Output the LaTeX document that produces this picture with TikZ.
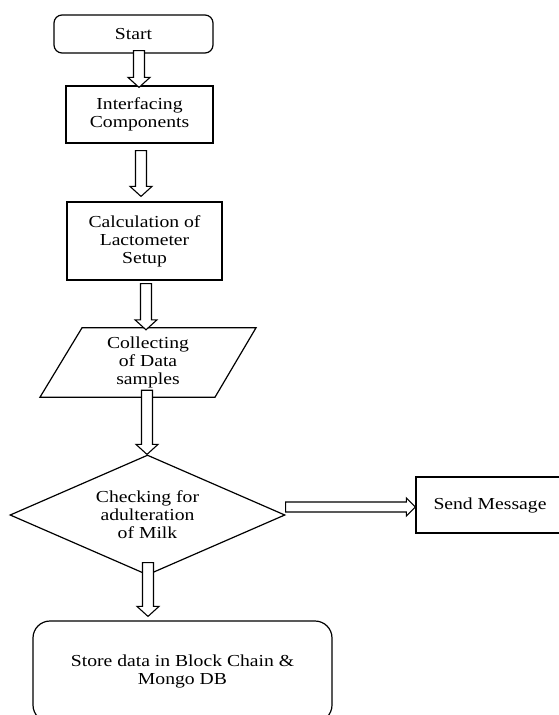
\documentclass[tikz,border=0pt]{standalone}
\usepackage{fontspec}
\setmainfont{Liberation Serif}[FakeStretch=1.17]
\usetikzlibrary{calc,shapes.geometric}
\tikzset{
  boxline/.style={draw, line width=1.2pt},
  txt/.style={align=center, font=\fontsize{16.8}{18}\selectfont, inner sep=0pt},
  procbox/.style={boxline, txt, rectangle},
  termbox/.style={boxline, txt, rectangle, rounded corners=8pt},
  blockarr/.style={draw, line width=1.1pt, fill=white, line join=miter},
}
\newcommand\varrowbox[2]{%
  \draw[blockarr] let \p1=#1, \p2=#2 in
    (\x1-5.5pt,\y1) -- (\x1+5.5pt,\y1) -- (\x1+5.5pt,\y2+10pt) -- (\x1+11pt,\y2+10pt)
    -- (\x1,\y2) -- (\x1-11pt,\y2+10pt) -- (\x1-5.5pt,\y2+10pt) -- cycle;}
\newcommand\harrowbox[2]{%
  \draw[blockarr] let \p1=#1, \p2=#2 in
    (\x1,\y1-5pt) -- (\x2-9pt,\y1-5pt) -- (\x2-9pt,\y1-9pt) -- (\x2,\y1)
    -- (\x2-9pt,\y1+9pt) -- (\x2-9pt,\y1+5pt) -- (\x1,\y1+5pt) -- cycle;}
\begin{document}
\begin{tikzpicture}[x=1pt,y=-1pt]
\useasboundingbox (0,0) rectangle (558,715);
\fill[white] (0,0) rectangle (558,715);

\node[termbox, minimum width=159pt, minimum height=38pt] (start) at (133.5,34) {Start};
\node[procbox, minimum width=147pt, minimum height=57pt] (interf) at (139.5,114.5) {Interfacing\\Components};
\node[procbox, minimum width=155pt, minimum height=78pt] (calcbox) at (144.5,241) {Calculation of\\Lactometer\\Setup};
\node[txt, minimum height=69pt, minimum width=174pt] (para) at (148,362.5) {Collecting\\of Data\\samples};
\draw[boxline] ($(para.north)+(-66,0)$) -- ($(para.north)+(108,0)$) -- ($(para.south)+(67,0)$) -- ($(para.south)+(-108,0)$) -- cycle;
\node[boxline, txt, diamond, aspect=2.3, minimum width=275pt, minimum height=120pt] (chk) at (147.5,515) {Checking for\\adulteration\\of Milk};
\node[procbox, minimum width=148pt, minimum height=56pt] (send) at (490,505) {Send Message};
\node[termbox, rounded corners=17pt, minimum width=299pt, minimum height=101pt] (store) at (182.5,671.5) {Store data in Block Chain \&\\Mongo DB};

\varrowbox{($(start.south)+(5.5,-3)$)}{($(interf.north)+(0,2)$)}
\varrowbox{($(interf.south)+(1.5,7)$)}{($(calcbox.north)+(0,-5)$)}
\varrowbox{($(calcbox.south)+(1.5,3)$)}{($(para.north)+(0,2)$)}
\varrowbox{($(para.south)+(-1,-7)$)}{(chk.north)}
\varrowbox{($(chk.south)+(0.5,-13)$)}{($(store.north)+(0,-4)$)}
\harrowbox{($(chk.east)+(0,-8)$)}{($(send.west)+(0,2)$)}
\end{tikzpicture}
\end{document}
